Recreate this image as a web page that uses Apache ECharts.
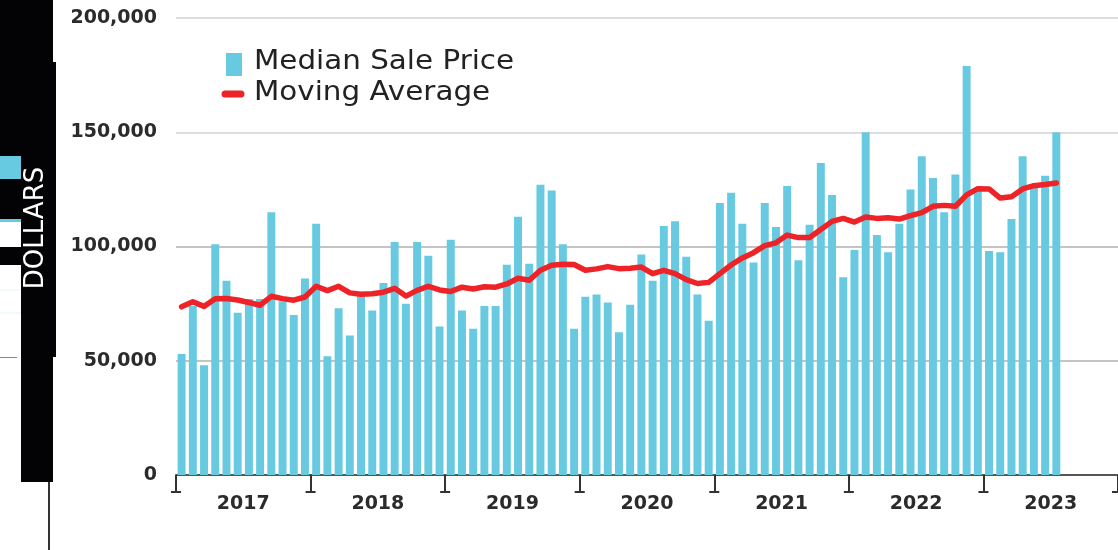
<!DOCTYPE html>
<html>
<head>
<meta charset="utf-8">
<script src="https://cdn.jsdelivr.net/npm/echarts@6/dist/echarts.min.js"></script>
<style>
  html, body { margin: 0; padding: 0; background: #fff; }
  #chart { width: 1118px; height: 550px; }
</style>
</head>
<body>
<div id="chart"></div>
<script>
const years = ['2017', '2018', '2019', '2020', '2021', '2022', '2023'];
const monthNames = ['Jan', 'Feb', 'Mar', 'Apr', 'May', 'Jun', 'Jul', 'Aug', 'Sep', 'Oct', 'Nov', 'Dec'];

// monthly median sale price, Jan 2017 - Jul 2023
const medianPrice = [
  53000, 74000, 48000, 101000, 85000, 71000, 77000, 77000, 115000, 76000, 70000, 86000,
  110000, 52000, 73000, 61000, 79000, 72000, 84000, 102000, 75000, 102000, 96000, 65000,
  103000, 72000, 64000, 74000, 74000, 92000, 113000, 92500, 127000, 124500, 101000, 64000,
  78000, 79000, 75500, 62500, 74500, 96500, 85000, 109000, 111000, 95500, 79000, 67500,
  119000, 123500, 110000, 93000, 119000, 108500, 126500, 94000, 109500, 136500, 122500, 86500,
  98500, 150000, 105000, 97500, 110000, 125000, 139500, 130000, 115000, 131500, 179000, 125000,
  98000, 97500, 112000, 139500, 126000, 131000, 150000
];

const movingAverage = [
  73600, 75800, 73800, 77100, 77200, 76600, 75500, 74300, 78200, 77200, 76500, 77900,
  82600, 80700, 82600, 79700, 79100, 79300, 80000, 81700, 78300, 80800, 82600, 81000,
  80300, 82200, 81400, 82400, 82200, 83600, 86100, 85200, 89600, 91800, 92200, 92100,
  89600, 90200, 91200, 90300, 90500, 91000, 88100, 89600, 88100, 85500, 83800, 84300,
  88100, 91900, 95000, 97300, 100400, 101600, 105000, 103900, 103900, 107400, 111000, 112300,
  110700, 112900, 112300, 112600, 112000, 113500, 114800, 117600, 118000, 117600, 122600, 125300,
  125200, 121200, 121800, 125200, 126600, 127100, 127800
];

const yearIndex = [0, 1, 2, 3, 4, 5, 6];

const months = [];
years.forEach(y => monthNames.forEach(m => months.push(m + ' ' + y)));

const chart = echarts.init(document.getElementById('chart'));

const axisFont = {
  color: '#2b2b2b',
  fontFamily: 'DejaVu Sans',
  fontWeight: 'bold',
  fontSize: 19
};

const legendText = {
  fill: '#222',
  fontFamily: 'DejaVu Sans',
  fontSize: 26,
  textVerticalAlign: 'middle'
};

const option = {
  animation: false,
  backgroundColor: '#fff',
  grid: {
    left: 176,
    right: 0,
    top: 18,
    bottom: 75,
    containLabel: false
  },
  xAxis: [
    {
      type: 'category',
      data: months,
      position: 'bottom',
      axisLine: { show: true, lineStyle: { color: '#555', width: 2 } },
      axisTick: { show: false },
      axisLabel: { show: false },
      splitLine: { show: false }
    },
    {
      type: 'category',
      data: years,
      position: 'bottom',
      axisLine: { show: false },
      axisTick: { show: true, length: 17, lineStyle: { color: '#333', width: 2 } },
      axisLabel: Object.assign({ margin: 20 }, axisFont),
      splitLine: { show: false }
    }
  ],
  yAxis: {
    type: 'value',
    min: 0,
    max: 200000,
    interval: 50000,
    axisLine: { show: false },
    axisTick: { show: false },
    axisLabel: Object.assign({
      margin: 19,
      formatter: v => v.toLocaleString('en-US')
    }, axisFont),
    splitLine: {
      lineStyle: { color: ['#aaa', '#b0b0b0', '#b0b0b0', '#d2d2d2', '#d2d2d2'], width: 1.5 }
    }
  },
  series: [
    {
      name: 'Median Sale Price',
      type: 'bar',
      data: medianPrice,
      barCategoryGap: '29%',
      itemStyle: { color: '#67CAE1' },
      z: 2
    },
    {
      name: 'Moving Average',
      type: 'line',
      data: movingAverage,
      symbol: 'none',
      smooth: false,
      lineStyle: { color: '#EE2327', width: 5.5, cap: 'round', join: 'round' },
      z: 3
    },
    {
      // little caps under the year ticks
      type: 'custom',
      xAxisIndex: 1,
      yAxisIndex: 0,
      data: yearIndex.map(i => [i, 0]),
      clip: false,
      silent: true,
      z: 5,
      renderItem: (params, api) => {
        const p = api.coord([api.value(0), 0]);
        const bw = api.size([1, 0])[0];
        const xs = [p[0] - bw / 2];
        if (api.value(0) === years.length - 1) xs.push(p[0] + bw / 2 - 1);
        const y = p[1] + 17;
        return {
          type: 'group',
          children: xs.map(x => ({
            type: 'line',
            shape: { x1: x - 5, y1: y, x2: x + 5, y2: y },
            style: { stroke: '#333', lineWidth: 2 }
          }))
        };
      }
    }
  ],
  graphic: [
    // clipped black panel at the left edge
    { type: 'rect', shape: { x: 0, y: 0, width: 53, height: 62 }, style: { fill: '#030306' } },
    { type: 'rect', shape: { x: 0, y: 62, width: 56, height: 295 }, style: { fill: '#030306' } },
    { type: 'rect', shape: { x: 0, y: 156, width: 21, height: 23 }, style: { fill: '#67CAE1' } },
    { type: 'rect', shape: { x: 0, y: 219, width: 21, height: 3 }, style: { fill: '#67CAE1' } },
    { type: 'rect', shape: { x: 0, y: 222, width: 21, height: 25 }, style: { fill: '#fff' } },
    { type: 'rect', shape: { x: 0, y: 265, width: 21, height: 92 }, style: { fill: '#fff' } },
    { type: 'line', shape: { x1: 0, y1: 290, x2: 21, y2: 290 }, style: { stroke: '#e3f3f8', lineWidth: 1 } },
    { type: 'line', shape: { x1: 0, y1: 313, x2: 21, y2: 313 }, style: { stroke: '#e3f3f8', lineWidth: 1 } },
    { type: 'line', shape: { x1: 0, y1: 357.5, x2: 17, y2: 357.5 }, style: { stroke: '#888', lineWidth: 1 } },
    { type: 'rect', shape: { x: 21, y: 357, width: 32, height: 125 }, style: { fill: '#030306' } },
    { type: 'line', shape: { x1: 49, y1: 482, x2: 49, y2: 550 }, style: { stroke: '#333', lineWidth: 2 } },
    {
      type: 'text',
      x: 36,
      y: 228,
      rotation: Math.PI / 2,
      style: {
        text: 'DOLLARS',
        fill: '#fff',
        fontFamily: 'DejaVu Sans',
        fontSize: 26,
        textAlign: 'center',
        textVerticalAlign: 'middle'
      }
    },
    // legend
    { type: 'rect', shape: { x: 226, y: 53, width: 16, height: 23 }, style: { fill: '#67CAE1' } },
    { type: 'text', x: 254, y: 62, scaleX: 1.13, style: Object.assign({ text: 'Median Sale Price' }, legendText) },
    { type: 'line', shape: { x1: 225, y1: 94, x2: 241, y2: 94 }, style: { stroke: '#EE2327', lineWidth: 7, lineCap: 'round' } },
    { type: 'text', x: 254, y: 93, scaleX: 1.13, style: Object.assign({ text: 'Moving Average' }, legendText) }
  ]
};

chart.setOption(option);
window.addEventListener('resize', () => chart.resize());
</script>
</body>
</html>
